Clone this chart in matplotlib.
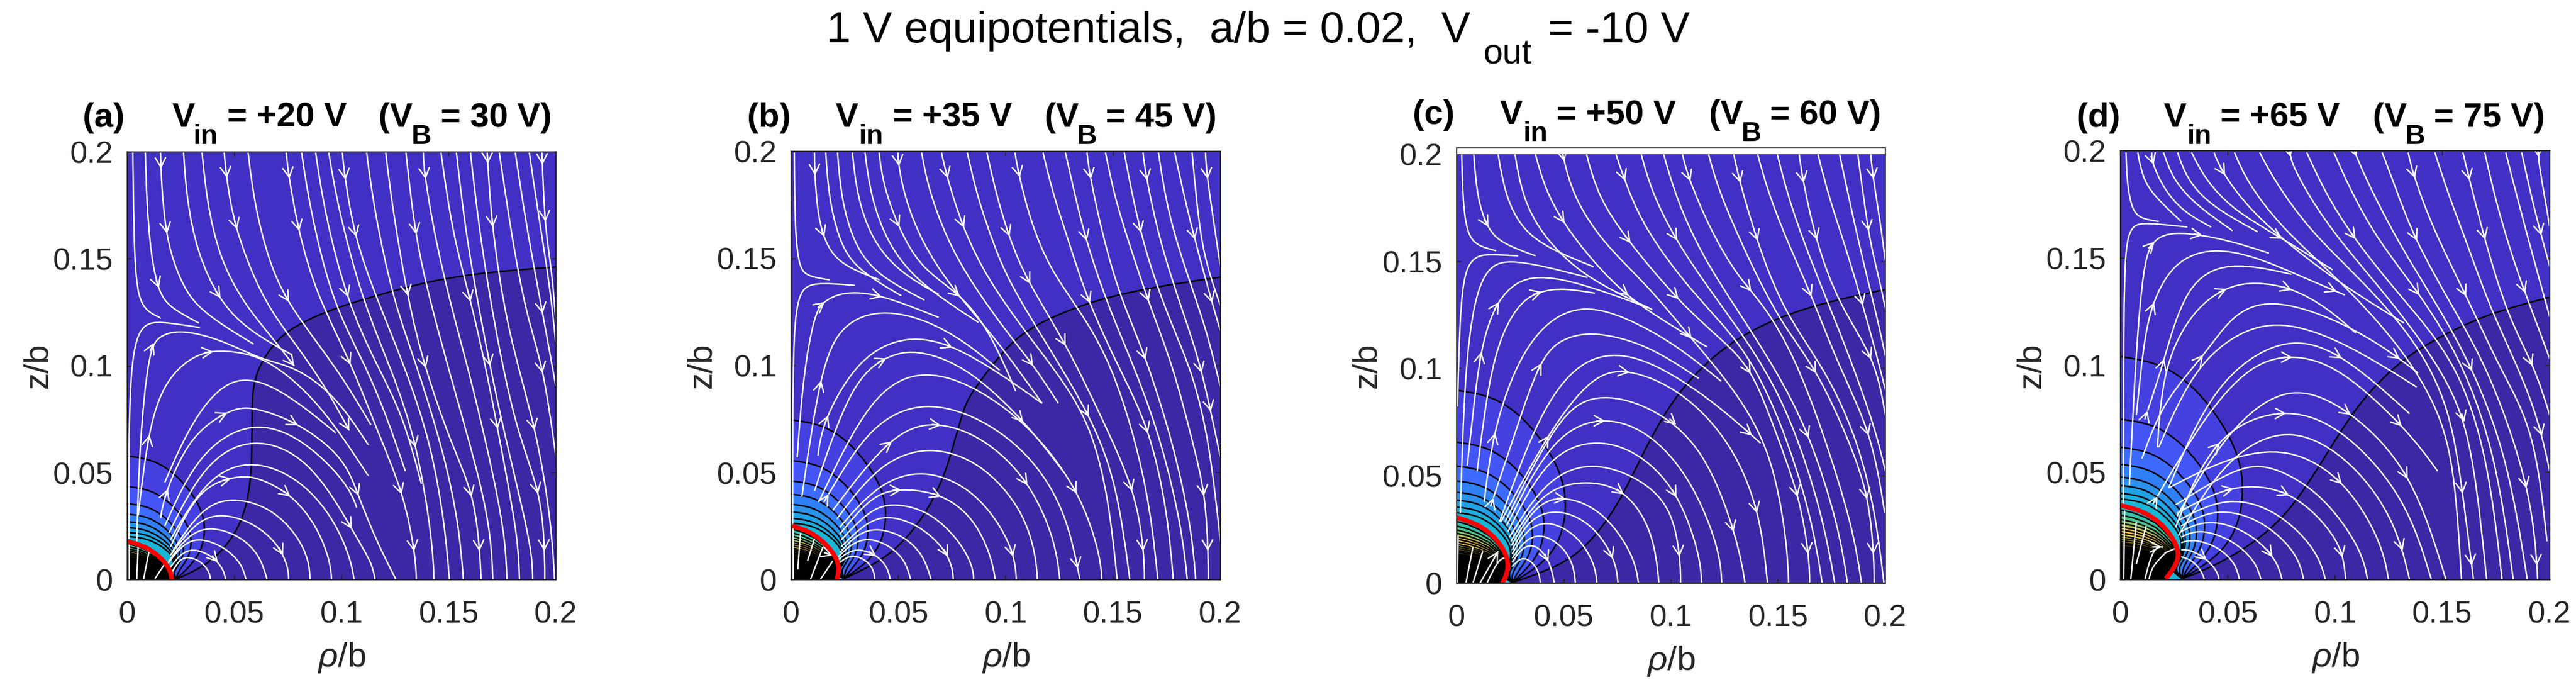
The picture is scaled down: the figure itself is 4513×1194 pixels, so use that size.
import numpy as np
import matplotlib
matplotlib.use('Agg')
import matplotlib.pyplot as plt
from matplotlib.path import Path
from matplotlib.patches import PathPatch

plt.rcParams['font.family'] = ['Liberation Sans', 'DejaVu Sans']
plt.rcParams['mathtext.fontset'] = 'custom'
plt.rcParams['mathtext.rm'] = 'Liberation Sans'
plt.rcParams['mathtext.it'] = 'Liberation Sans:italic'
plt.rcParams['mathtext.bf'] = 'Liberation Sans:bold'

W, H, DPI = 4513, 1194, 100

# ---- values digitised from 2x enlargements of each panel ------------------
# (enlargement_x, enlargement_y); CAL = x at rho=0, x at rho=.2, y at z=0, y at z=.2
CAL_A = (17, 1545, 1537, 12)
CAL_B = (17, 1548, 1537, 10)
CAL_C = (17, 1545, 1549, 21)
CAL_D = (19, 1550, 1537, 9)

STREAMS_A = [
 [(36,14),(38,150),(42,400),(55,530),(85,580),(134,603)],
 [(81,14),(85,180),(100,380),(128,510),(165,565),(272,622)],
 [(135,14),(138,130),(155,315),(190,430),(240,540),(340,620),(467,697)],
 [(217,14),(228,180),(265,370),(345,545),(450,650),(603,735)],
 [(283,14),(300,190),(345,390),(430,550),(530,670),(612,775)],
 [(362,14),(368,85),(395,275),(500,545),(620,700),(730,860),(808,1005)],
 [(447,14),(470,200),(520,400),(585,545),(700,700),(800,840),(885,985)],
 [(583,14),(590,85),(625,290),(690,520),(820,775),(905,1000),(1005,1235),(1045,1460),(1047,1537)],
 [(638,14),(665,200),(745,545),(860,760),(940,950),(1008,1150)],
 [(688,14),(720,230),(800,545),(905,770),(1000,950),(1065,1195)],
 [(735,14),(765,200),(855,545),(960,790),(1050,1050),(1105,1400),(1110,1537)],
 [(783,14),(790,85),(825,315),(910,545),(1005,775),(1100,1050),(1150,1350),(1165,1537)],
 [(870,14),(895,210),(965,545),(1050,775),(1150,1100),(1200,1350),(1215,1537)],
 [(938,14),(960,200),(1018,545),(1075,775),(1170,1050),(1255,1235),(1275,1460),(1278,1537)],
 [(1010,14),(1043,315),(1100,560),(1180,850),(1280,1200),(1315,1400),(1320,1537)],
 [(1072,14),(1075,85),(1110,300),(1170,560),(1250,850),(1330,1200),(1365,1400),(1370,1537)],
 [(1135,14),(1175,300),(1242,545),(1300,800),(1375,1200),(1410,1400),(1415,1537)],
 [(1190,14),(1220,280),(1275,600),(1345,950),(1430,1300),(1460,1450),(1462,1537)],
 [(1240,14),(1270,280),(1320,600),(1400,1000),(1495,1232),(1505,1460),(1505,1537)],
 [(1300,14),(1313,255),(1370,650),(1478,1005),(1530,1350),(1540,1537)],
 [(1343,14),(1385,300),(1440,600),(1500,775),(1545,1100)],
 [(1400,14),(1440,280),(1500,600),(1545,850)],
 [(1450,14),(1480,220),(1525,500),(1545,700)],
 [(1495,14),(1505,280),(1530,430),(1545,620)],
 [(22,1390),(22,1000),(30,780),(50,670),(80,625),(130,615),(275,638)],
 [(50,1400),(60,1050),(92,720),(130,665),(210,645),(350,680),(498,755),(612,775),(760,880),(875,1055)],
 [(55,1310),(92,995),(150,830),(240,745),(320,718),(420,725),(525,755),(700,900),(875,1165)],
 [(150,1190),(250,960),(390,797),(560,850),(758,1012)],
 [(135,1318),(148,1235),(240,1020),(385,928),(460,918),(625,975),(790,1100),(838,1232),(905,1400),(975,1537)],
 [(150,1345),(270,1080),(460,965),(640,1030),(800,1190),(835,1280)],
 [(165,1370),(290,1120),(460,1021),(670,1100),(835,1388),(890,1480),(900,1537)],
 [(170,1395),(300,1170),(460,1103),(640,1180),(760,1330),(815,1470),(825,1537)],
 [(170,1420),(270,1210),(395,1170),(470,1165),(605,1232),(695,1350),(740,1470),(745,1537)],
 [(175,1440),(280,1280),(390,1240),(530,1280),(625,1380),(665,1470),(668,1537)],
 [(170,1450),(260,1330),(350,1297),(470,1335),(555,1410),(590,1490),(592,1537)],
 [(165,1470),(230,1380),(309,1344),(420,1380),(490,1450),(515,1537)],
 [(160,1480),(210,1415),(270,1384),(365,1420),(425,1480),(440,1537)],
 [(165,1500),(205,1445),(250,1424),(320,1450),(360,1500),(367,1537)],
 [(175,1510),(200,1470),(227,1452),(280,1470),(310,1510),(313,1537)],
 [(22,1537),(22,1410)], [(50,1537),(55,1420)], [(74,1537),(95,1430)],
 [(115,1533),(153,1476)],
]
ARROWS_A = [(137,85),(367,85),(590,85),(790,85),(1075,85),(1300,85),(1495,85),
 (155,315),(395,275),(625,290),(825,315),(1043,315),(1313,255),(1505,280),
 (130,510),(345,545),(585,545),(800,545),(1018,545),(1242,545),(1480,545),
 (92,720),(320,718),(610,775),(820,775),(1075,775),(1275,775),(1500,775),
 (92,995),(385,928),(625,975),(808,1005),(1040,1005),(1310,1005),(1478,1005),
 (148,1235),(395,1170),(605,1232),(838,1232),(1005,1235),(1255,1235),(1495,1232),
 (335,1460),(580,1460),(835,1388),(1045,1460),(1275,1460),(1505,1460)]
BOUNDARY_A = [(1545,422),(1300,440),(1100,470),(900,525),(720,580),(580,650),(520,720),(480,790),
              (463,860),(461,950),(461,1100),(455,1190),(440,1280),(405,1370),(340,1450),(270,1500),(190,1535)]
TOPS_A = [1096,1205,1266,1303,1330,1351,1368,1383]
RHOMAX_A = [299,250,222,207,197,192,188,185]
CONV_A = (190,1535)
RED_A = [(17,1400),(90,1420),(150,1470),(172,1510),(175,1537)]

STREAMS_B = [
 [(28,14),(30,300),(45,420),(70,455),(155,468)],
 [(100,14),(100,85),(110,220),(130,315),(180,410),(330,467)],
 [(140,14),(150,170),(185,320),(240,425),(410,525)],
 [(182,14),(195,180),(240,340),(320,450),(492,540)],
 [(235,14),(250,160),(300,320),(400,440),(543,520)],
 [(280,14),(300,170),(360,340),(470,480),(685,620)],
 [(330,14),(345,130),(398,280),(480,430),(625,520),(730,660),(818,865)],
 [(398,14),(398,48),(420,170),(480,330),(590,500),(750,680),(912,908)],
 [(482,14),(505,140),(570,320),(660,480),(790,660),(880,770),(970,908)],
 [(553,14),(568,85),(628,285),(720,470),(857,660),(990,830),(1090,1000),(1150,1250),(1180,1537)],
 [(645,14),(680,170),(735,330),(790,470),(930,700),(1090,960),(1180,1200),(1225,1537)],
 [(715,14),(745,150),(793,315),(857,470),(1000,700),(1120,950),(1250,1230),(1277,1460),(1277,1537)],
 [(815,14),(827,85),(870,260),(940,430),(1045,575),(1170,780),(1290,1200),(1325,1537)],
 [(915,14),(950,160),(1010,340),(1075,545),(1190,790),(1297,1000),(1360,1300),(1380,1537)],
 [(995,14),(1030,170),(1065,315),(1140,545),(1250,800),(1340,1050),(1410,1350),(1430,1537)],
 [(1072,14),(1080,85),(1125,300),(1190,530),(1280,735),(1380,1050),(1445,1350),(1460,1537)],
 [(1138,14),(1170,170),(1215,315),(1290,545),(1380,775),(1450,1050),(1495,1230),(1505,1460),(1505,1537)],
 [(1205,14),(1240,200),(1290,400),(1370,620),(1450,800),(1510,1050),(1548,1400)],
 [(1272,14),(1280,85),(1330,330),(1420,600),(1480,775),(1548,1100)],
 [(1327,14),(1360,230),(1430,450),(1500,650),(1548,850)],
 [(1385,14),(1425,200),(1490,450),(1548,650)],
 [(1447,14),(1475,315),(1510,450),(1548,560)],
 [(1495,14),(1498,85),(1530,300),(1548,420)],
 [(22,1340),(22,1000),(25,640),(45,510),(90,475),(245,488)],
 [(38,1100),(60,800),(100,590),(130,545),(200,510),(325,515),(543,602)],
 [(55,1240),(122,775),(200,620),(340,572),(500,610),(640,690),(760,790)],
 [(112,1095),(130,968),(260,740),(430,663),(590,698),(760,800),(912,908)],
 [(100,1220),(230,830),(360,735),(470,715),(650,780),(858,980),(990,1155)],
 [(115,1260),(300,870),(490,778),(700,860),(890,1010),(1050,1230),(1120,1450),(1125,1537)],
 [(150,1232),(300,980),(490,895),(700,960),(880,1100),(1000,1300),(1047,1537)],
 [(165,1290),(385,1000),(550,970),(720,1040),(870,1190),(960,1400),(975,1537)],
 [(180,1320),(330,1120),(510,1055),(700,1120),(845,1290),(890,1450),(895,1537)],
 [(190,1350),(330,1190),(490,1140),(660,1210),(770,1350),(815,1460),(820,1537)],
 [(190,1375),(300,1240),(400,1208),(560,1230),(670,1320),(730,1450),(745,1537)],
 [(195,1395),(290,1295),(370,1260),(510,1290),(620,1400),(665,1490),(668,1537)],
 [(195,1420),(280,1335),(360,1305),(470,1340),(560,1420),(592,1490),(595,1537)],
 [(190,1440),(250,1375),(320,1350),(420,1380),(490,1450),(516,1537)],
 [(185,1455),(230,1410),(290,1385),(370,1415),(425,1470),(443,1537)],
 [(180,1470),(215,1440),(260,1425),(325,1450),(362,1495),(370,1537)],
 [(185,1480),(215,1455),(250,1450),(295,1475),(313,1510),(315,1537)],
 [(135,1440),(165,1450)],
 [(22,1537),(22,1345)],[(40,1500),(50,1370)],[(75,1470),(100,1390)],[(85,1537),(130,1420)],
 [(120,1537),(165,1470)],
]
ARROWS_B = [(100,85),(398,48),(568,85),(827,85),(1080,85),(1280,85),(1498,85),
 (130,315),(398,280),(628,285),(793,315),(1048,315),(1245,315),(1475,315),
 (325,515),(130,545),(625,520),(857,470),(1045,545),(1290,545),(1500,545),
 (122,775),(360,735),(590,698),(853,775),(1050,740),(1280,735),(1480,775),
 (130,968),(385,1000),(550,970),(858,980),(1090,960),(1297,1000),(1510,965),
 (150,1232),(395,1210),(560,1230),(845,1160),(1090,1230),(1250,1230),(1495,1230),
 (165,1445),(330,1455),(582,1460),(815,1460),(1047,1460),(1277,1460),(1505,1460)]
BOUNDARY_B = [(1548,458),(1300,495),(1100,540),(920,610),(800,685),(690,830),(640,900),(615,990),
              (590,1075),(565,1160),(510,1280),(430,1390),(340,1470),(205,1533)]
TOPS_B = [967,1112,1185,1232,1268,1295,1318,1335]
RHOMAX_B = [363,298,262,238,222,213,207,203]
CONV_B = (205,1533)
RED_B = [(20,1345),(100,1370),(170,1440),(190,1490),(180,1537)]

STREAMS_C = [
 [(35,22),(40,220),(60,320),(100,350),(158,365)],
 [(78,22),(90,180),(128,290),(180,340),(298,383)],
 [(165,22),(190,170),(250,290),(350,360),(505,422)],
 [(225,22),(250,170),(320,310),(470,460),(712,573)],
 [(298,22),(330,140),(395,265),(500,400),(625,530),(780,630),(910,708)],
 [(395,22),(430,170),(540,340),(700,490),(855,680),(1010,860),(1140,1080),(1195,1400),(1200,1549)],
 [(480,22),(520,170),(622,325),(817,555),(960,680),(1070,785),(1150,1000),(1242,1245),(1275,1470),(1275,1549)],
 [(585,22),(610,98),(680,280),(860,520),(1040,700),(1170,960),(1280,1300),(1320,1549)],
 [(675,22),(710,150),(795,325),(930,520),(1085,730),(1210,960),(1320,1300),(1365,1549)],
 [(755,22),(800,180),(890,380),(1020,580),(1150,780),(1275,1015),(1380,1350),(1410,1549)],
 [(822,22),(840,98),(920,290),(1020,460),(1115,560),(1220,740),(1320,1000),(1430,1350),(1460,1549)],
 [(915,22),(950,150),(1050,380),(1170,620),(1300,785),(1420,1050),(1488,1245),(1505,1470),(1505,1549)],
 [(1005,22),(1020,98),(1085,325),(1180,580),(1340,800),(1450,1050),(1510,1300),(1540,1549)],
 [(1090,22),(1125,150),(1190,320),(1280,518),(1380,780),(1497,1015),(1543,1300)],
 [(1160,22),(1205,200),(1295,440),(1410,720),(1510,1000),(1545,1150)],
 [(1238,22),(1248,98),(1295,325),(1380,560),(1510,750),(1545,950)],
 [(1305,22),(1345,180),(1420,400),(1510,720),(1545,860)],
 [(1382,22),(1420,200),(1465,400),(1520,620),(1545,740)],
 [(1447,22),(1487,325),(1520,450),(1545,570)],
 [(1493,22),(1500,98),(1525,250),(1545,400)],
 [(20,920),(28,600),(45,430),(85,385),(125,377),(236,383)],
 [(30,1300),(45,800),(80,530),(130,420),(200,397),(330,420),(483,460)],
 [(55,1130),(90,800),(120,650),(165,540),(230,475),(305,455),(420,470),(600,530),(712,573)],
 [(90,1150),(130,830),(180,650),(250,540),(320,508),(395,498),(510,516)],
 [(115,1260),(145,1015),(230,760),(340,610),(470,557),(620,600),(800,700),(960,830)],
 [(148,1245),(230,1000),(320,730),(410,670),(515,653),(700,700),(880,820)],
 [(170,1330),(300,970),(420,790),(545,725),(700,750),(920,890),(1100,1050)],
 [(175,1330),(350,1000),(500,810),(620,780),(820,860),(1000,1050),(1100,1300),(1125,1549)],
 [(190,1330),(380,950),(510,870),(700,910),(900,1060),(1020,1397),(1045,1549)],
 [(195,1345),(360,1015),(550,948),(720,1020),(860,1190),(955,1430),(962,1549)],
 [(200,1365),(340,1090),(520,1030),(680,1090),(810,1230),(885,1450),(890,1549)],
 [(205,1385),(340,1170),(510,1110),(700,1190),(790,1300),(815,1470),(815,1549)],
 [(210,1400),(320,1220),(470,1180),(622,1212),(720,1370),(738,1549)],
 [(212,1415),(300,1265),(400,1235),(540,1290),(650,1450),(665,1549)],
 [(215,1430),(280,1310),(390,1283),(510,1345),(585,1470),(592,1549)],
 [(215,1445),(270,1350),(350,1325),(450,1380),(510,1480),(517,1549)],
 [(215,1460),(260,1395),(320,1370),(400,1420),(435,1490),(440,1549)],
 [(215,1475),(250,1420),(300,1408),(350,1470),(365,1549)],
 [(215,1490),(250,1452),(290,1475),(312,1515),(315,1549)],
 [(20,1549),(22,1380)],[(50,1549),(75,1420)],[(75,1549),(110,1435)],
 [(100,1549),(165,1435)],[(125,1549),(165,1465),(190,1458)],
]
ARROWS_C = [(165,25),(392,40),(610,98),(840,98),(1020,98),(1248,98),(1500,98),
 (128,290),(395,265),(622,325),(795,325),(1085,325),(1295,325),(1487,325),
 (165,545),(320,508),(625,545),(817,555),(1085,525),(1280,518),(1465,555),
 (100,710),(320,730),(620,780),(855,718),(1070,785),(1300,785),(1510,750),
 (145,1015),(360,1015),(550,948),(775,1010),(1075,1015),(1275,1015),(1497,1015),
 (148,1245),(395,1235),(622,1212),(790,1245),(1075,1245),(1242,1245),(1488,1245),
 (165,1435),(330,1470),(580,1470),(815,1470),(1020,1397),(1275,1470),(1505,1470)]
BOUNDARY_C = [(1545,503),(1300,555),(1120,620),(960,710),(800,870),(690,1065),(590,1280),(480,1420),
              (380,1490),(215,1547)]
TOPS_C = [862,1047,1132,1185,1225,1253,1278,1298]
RHOMAX_C = [415,337,295,265,245,232,222,215]
CONV_C = (215,1547)
RED_C = [(17,1315),(100,1340),(170,1400),(205,1470),(195,1520),(180,1549)]

STREAMS_D = [
 [(38,14),(42,130),(60,220),(90,250),(155,260)],
 [(80,14),(100,120),(160,190),(235,260)],
 [(130,14),(130,48),(170,140),(240,225),(342,280)],
 [(172,14),(205,110),(285,200),(418,293)],
 [(222,14),(255,110),(340,205),(508,297)],
 [(272,14),(320,110),(420,220),(595,320),(775,432)],
 [(352,14),(380,85),(480,220),(640,360),(830,500),(1030,622)],
 [(425,14),(470,120),(590,280),(780,450),(1010,690),(1170,950),(1215,1200),(1235,1537)],
 [(515,14),(565,110),(690,290),(880,470),(1070,680),(1195,920),(1240,1232),(1278,1537)],
 [(625,14),(625,45),(690,170),(800,330),(1000,560),(1210,850),(1280,1100),(1325,1537)],
 [(683,14),(745,150),(845,315),(1020,530),(1220,760),(1330,1100),(1380,1537)],
 [(780,14),(830,130),(930,320),(1085,515),(1240,760),(1360,1100),(1420,1537)],
 [(855,14),(890,100),(1000,320),(1150,560),(1272,775),(1400,1100),(1470,1537)],
 [(952,14),(1000,140),(1065,318),(1200,560),(1340,800),(1488,1232),(1507,1537)],
 [(1045,14),(1060,85),(1130,280),(1250,520),(1380,800),(1497,1005),(1540,1400)],
 [(1140,14),(1190,170),(1260,350),(1340,580),(1495,900),(1550,1150)],
 [(1240,14),(1258,88),(1315,315),(1400,600),(1495,775),(1550,950)],
 [(1318,14),(1360,200),(1430,430),(1495,600),(1550,750)],
 [(1393,14),(1435,180),(1500,420),(1550,600)],
 [(1450,14),(1490,200),(1550,420)],
 [(1510,14),(1510,48),(1535,190),(1550,280)],
 [(28,1280),(30,600),(35,340),(60,275),(100,263),(257,280)],
 [(50,1200),(75,700),(100,420),(130,320),(220,293),(400,325),(548,373)],
 [(75,950),(100,700),(130,548),(210,400),(345,352),(500,385),(650,450),(818,522)],
 [(115,935),(170,770),(250,480),(400,398),(628,448)],
 [(150,1065),(170,770),(280,570),(400,490),(500,475),(630,495),(760,570),(858,658)],
 [(95,1105),(170,900),(325,728),(410,600),(535,533),(750,590),(950,700),(1080,800)],
 [(155,1065),(270,800),(420,660),(590,608),(820,690),(1075,850)],
 [(190,1210),(350,830),(600,663),(800,720),(1050,945)],
 [(150,1240),(320,950),(480,770),(628,730),(800,775),(1045,1005),(1150,1150)],
 [(220,1310),(400,1000),(620,827),(840,930),(1060,1150),(1180,1537)],
 [(215,1350),(350,1008),(620,912),(830,1010),(1040,1250),(1128,1537)],
 [(225,1380),(400,1090),(630,978),(855,1120),(1000,1330),(1050,1537)],
 [(190,1210),(400,1100),(620,1060),(820,1180),(950,1400),(975,1537)],
 [(215,1270),(440,1130),(560,1127),(740,1230),(880,1430),(900,1537)],
 [(220,1300),(420,1190),(630,1215),(780,1370),(815,1460),(822,1537)],
 [(225,1325),(400,1235),(580,1290),(720,1430),(750,1537)],
 [(235,1345),(360,1279),(520,1320),(650,1440),(672,1537)],
 [(235,1365),(328,1319),(470,1360),(575,1460),(595,1537)],
 [(235,1385),(300,1354),(420,1395),(500,1470),(520,1537)],
 [(235,1405),(280,1391),(370,1420),(430,1480),(443,1537)],
 [(235,1430),(270,1430),(330,1465),(365,1510),(370,1537)],
 [(235,1455),(270,1465),(305,1500),(318,1537)],
 [(175,1442),(215,1425)],
 [(180,1440),(130,1490),(120,1537)],
 [(30,1537),(33,1290)],[(55,1537),(75,1330)],[(75,1480),(110,1345)],[(105,1537),(135,1420),(170,1420)],
]
ARROWS_D = [(130,48),(380,85),(625,45),(853,42),(1060,85),(1258,88),(1510,48),
 (130,320),(320,300),(595,320),(845,315),(1065,318),(1315,315),(1500,315),
 (130,548),(400,490),(630,495),(785,520),(1085,515),(1305,545),(1495,545),
 (325,728),(170,770),(628,730),(800,775),(1010,740),(1272,775),(1495,775),
 (115,935),(350,1008),(630,978),(785,950),(1045,1005),(1260,1005),(1497,1005),
 (150,1240),(395,1195),(630,1215),(855,1200),(1010,1175),(1240,1232),(1488,1232),
 (165,1430),(330,1455),(580,1460),(815,1460),(1045,1460),(1277,1460),(1505,1460)]
BOUNDARY_D = [(1550,530),(1320,590),(1120,690),(1000,770),(860,915),(745,1105),(620,1300),(490,1410),
              (350,1490),(239,1533)]
TOPS_D = [742,965,1065,1126,1171,1201,1229,1249]
RHOMAX_D = [466,375,327,297,273,256,248,242]
CONV_D = (239,1533)
RED_D = [(20,1272),(110,1295),(180,1350),(225,1420),(225,1470),(195,1515),(180,1533)]

# fraction of rho-max, fraction of depth from the top of one equipotential
PROFILE_RHO = [0, .35, .65, .897, .993, .95, .79]
PROFILE_Z = [0, .03, .167, .372, .555, .76, .897]
BAND_COLORS = ['#4031c4','#4540e0','#4455f8','#3d6bff','#2f80f5','#2a92ec','#22a2e6','#1eb0de','#19b6d8']
INNER_COLORS = ['#38bfa8','#4cc890','#80c870','#b8c050','#e8ba3c','#f0c03a','#e8c82c','#d0c020','#b8a020','#a89010','#706008','#403804']
INNER_Z = [.94,.87,.81,.76,.71,.67,.63,.59,.56,.53,.50,.48]

TITLE_ROW = [
 ('(a)',['V','in','= +20 V','(V','B','= 30 V)'],[145,302,339,398,663,721,772],222,252),
 ('(b)',['V','in','= +35 V','(V','B','= 45 V)'],[1309,1464,1505,1564,1830,1887,1937],222,252),
 ('(c)',['V','in','= +50 V','(V','B','= 60 V)'],[2475,2628,2669,2727,2994,3051,3101],217,247),
 ('(d)',['V','in','= +65 V','(V','B','= 75 V)'],[3638,3791,3832,3890,4157,4214,4264],222,252),
]
AXES_BOX = [(223.3,974,266,1015,.2),(1386.3,2138,265,1015,.2),(2552,3303,259,1021,.2029),(3715.3,4467,264.4,1015,.2)]
TICKS = [0,.05,.1,.15,.2]
TICK_LABELS = ['0','0.05','0.1','0.15','0.2']

fig = plt.figure(figsize=(W/DPI, H/DPI), dpi=DPI)

def ftext(x, y, s, **kw):
    return fig.text(x/W, 1-y/H, s, va=kw.pop('va','baseline'), **kw)

def to_data(pts, cal):
    p = np.asarray(pts, float)
    return np.column_stack([(p[:,0]-cal[0])/(cal[1]-cal[0])*.2, (cal[2]-p[:,1])/(cal[2]-cal[3])*.2])

def smooth(p):
    """Clamped cubic B-spline over the read points, as Bezier path codes."""
    n = len(p)
    if n == 2:
        return Path(p)
    q = np.vstack([p[0],p[0],p,p[-1],p[-1]])
    verts = [p[0]]; codes = [Path.MOVETO]
    for i in range(1,len(q)-2):
        a,b,c,d = q[i-1],q[i],q[i+1],q[i+2]
        verts += [(2*b+c)/3, (b+2*c)/3, (b+4*c+d)/6]
        codes += [Path.CURVE4]*3
    return Path(verts, codes)

def flat(p):
    return smooth(p).to_polygons(closed_only=False)[0]

def equip(top, rmax, conv, x0):
    xs = [x0+(rmax-x0)*f for f in PROFILE_RHO]
    ys = [top+(conv[1]-top)*f for f in PROFILE_Z]
    return list(zip(xs,ys))+[conv]

def draw(ax, streams, arrows, boundary, tops, rmax, conv, red, cal):
    ax.set_facecolor('#3c27a5')
    b = to_data(boundary, cal)
    bf = flat(b)
    poly = np.vstack([bf, [[0,0],[0,.2],[.2,.2]]])
    ax.fill(poly[:,0], poly[:,1], color=BAND_COLORS[0], lw=0, zorder=1)
    ax.add_patch(PathPatch(smooth(b), fc='none', ec='k', lw=1.9, zorder=2))
    for i,(t,r) in enumerate(zip(tops,rmax)):
        c = to_data(equip(t,r,conv,cal[0]),cal)
        f = flat(c)
        poly = np.vstack([f,[[0,0]]])
        ax.fill(poly[:,0],poly[:,1],color=BAND_COLORS[i+1],lw=0,zorder=3+i*.01)
        ax.add_patch(PathPatch(smooth(c),fc='none',ec='k',lw=1.9,zorder=3+i*.01+.005))
    rd = to_data(red,cal)
    rf = flat(rd)
    for i,s in enumerate(INNER_Z):
        g = rf*[.9+.1*s, s]
        poly = np.vstack([g,[[0,0]]])
        ax.fill(poly[:,0],poly[:,1],color=INNER_COLORS[i],ec='k',lw=1.9,zorder=4+i*.01)
    g = rf*[.95,.46]
    poly = np.vstack([g,[[rf[-1,0]*.95,0],[0,0]]])
    ax.fill(poly[:,0],poly[:,1],color='k',lw=0,zorder=4.5)
    flats = []
    for s in streams:
        d = to_data(s,cal)
        ax.add_patch(PathPatch(smooth(d),fc='none',ec='w',lw=1.8,zorder=5,capstyle='butt'))
        flats.append(flat(d))
    for t in to_data(arrows,cal):
        best = None
        for f in flats:
            dist = np.hypot(*(f-t).T)
            j = dist.argmin()
            if best is None or dist[j] < best[0]:
                best = (dist[j], f, j)
        _, f, j = best
        j = max(j,1)
        u = f[j]-f[j-1]
        if j+1 < len(f): u = f[j+1]-f[j-1]
        u = u/np.hypot(*u)
        tip = f[j]
        ax.annotate('', xy=tip, xytext=tip-u*.004,
                    arrowprops=dict(arrowstyle='->,head_length=12,head_width=6.5', mutation_scale=1,
                                    color='w', lw=1.8, shrinkA=0, shrinkB=0), zorder=6,
                    annotation_clip=True)
    ax.add_patch(PathPatch(smooth(rd),fc='none',ec='#ff0000',lw=5.8,zorder=7,capstyle='butt'))

PANEL_DATA = [(STREAMS_A,ARROWS_A,BOUNDARY_A,TOPS_A,RHOMAX_A,CONV_A,RED_A,CAL_A),
              (STREAMS_B,ARROWS_B,BOUNDARY_B,TOPS_B,RHOMAX_B,CONV_B,RED_B,CAL_B),
              (STREAMS_C,ARROWS_C,BOUNDARY_C,TOPS_C,RHOMAX_C,CONV_C,RED_C,CAL_C),
              (STREAMS_D,ARROWS_D,BOUNDARY_D,TOPS_D,RHOMAX_D,CONV_D,RED_D,CAL_D)]

GRAY = '#262626'
for box, pd, tr in zip(AXES_BOX, PANEL_DATA, TITLE_ROW):
    l,r,t,bt,zt = box
    ax = fig.add_axes([l/W, 1-bt/H, (r-l)/W, (bt-t)/H])
    ax.set_xlim(0,.2); ax.set_ylim(0,zt)
    draw(ax,*pd)
    if zt > .2:
        ax.fill([0,.2,.2,0],[.2,.2,zt,zt],color='w',zorder=8,lw=0)
    ax.set_xticks(TICKS); ax.set_xticklabels(TICK_LABELS)
    ax.set_yticks(TICKS); ax.set_yticklabels(TICK_LABELS)
    ax.tick_params(direction='in',top=True,right=True,length=5.5,width=1.5,color=GRAY,
                   labelcolor=GRAY,labelsize=39,pad=26,zorder=11)
    ax.tick_params(axis='y',pad=18)
    for sp in ax.spines.values():
        sp.set_linewidth(1.6); sp.set_color(GRAY); sp.set_zorder(10)
    cx = (l+r)/2
    ftext(cx, bt+152, r'$\mathit{\rho}$/b', ha='center', fontsize=43, color=GRAY)
    ftext(l-157, (t+bt)/2, 'z/b', ha='center', va='center', rotation=90, fontsize=43, color=GRAY)
    label, parts, xs, y0, y1 = tr
    ftext(xs[0],y0,label,fontsize=43,fontweight='bold')
    ftext(xs[1],y0,parts[0],fontsize=43,fontweight='bold')
    ftext(xs[2],y1,parts[1],fontsize=35,fontweight='bold')
    ftext(xs[3],y0,parts[2],fontsize=43,fontweight='bold')
    ftext(xs[4],y0,parts[3],fontsize=43,fontweight='bold')
    ftext(xs[5],y1,parts[4],fontsize=35,fontweight='bold')
    ftext(xs[6],y0,parts[5],fontsize=43,fontweight='bold')

ftext(1448,74,'1 V equipotentials,  a/b = 0.02,  V',fontsize=55)
ftext(2598,112,'out',fontsize=44)
ftext(2712,74,'= -10 V',fontsize=55)

fig.savefig('out.png',dpi=DPI)
